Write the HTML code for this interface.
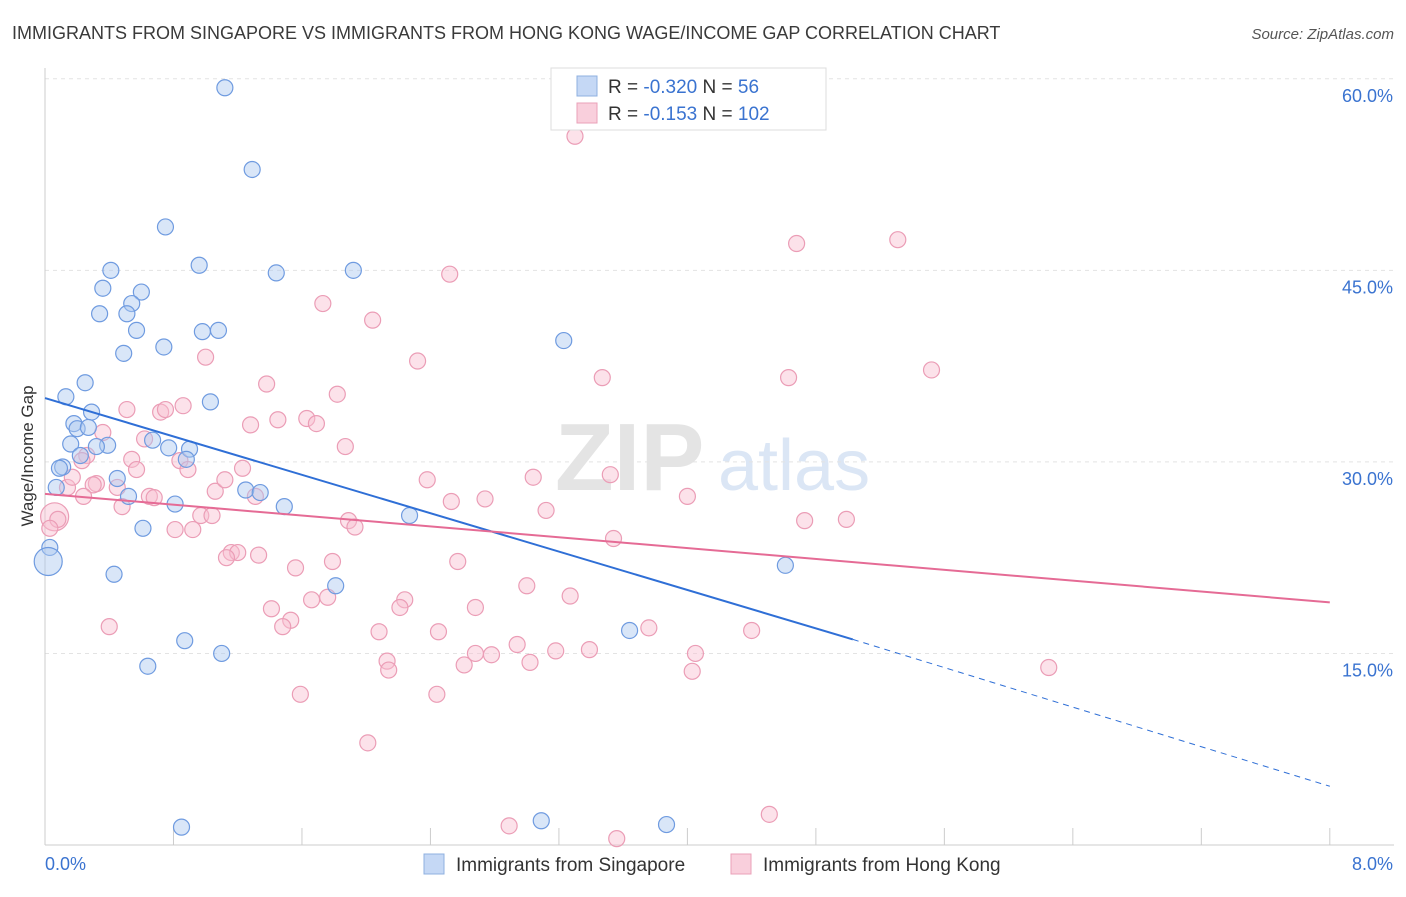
<!DOCTYPE html>
<html><head><meta charset="utf-8"><style>
body{margin:0;background:#fff;font-family:"Liberation Sans",sans-serif;}
svg text{font-family:"Liberation Sans",sans-serif;}
</style></head><body>
<svg id="chart" width="1406" height="892" xmlns="http://www.w3.org/2000/svg">
<text x="12" y="39" font-size="18" fill="#3a3a3a">IMMIGRANTS FROM SINGAPORE VS IMMIGRANTS FROM HONG KONG WAGE/INCOME GAP CORRELATION CHART</text>
<text x="1394" y="39" font-size="15" fill="#555" text-anchor="end" font-style="italic">Source: ZipAtlas.com</text>
<g><text x="555" y="490" font-size="96" fill="#e4e4e4" font-family="Liberation Serif" font-weight="bold">ZIP</text><text x="718" y="490" font-size="72" fill="#dbe6f5">atlas</text></g>
<g id="grid"></g>
<g id="axes"></g>
<g id="pink"></g>
<g id="blue"></g>
<g id="trend"></g>
<text transform="translate(33,456) rotate(-90)" font-size="17" fill="#333" text-anchor="middle">Wage/Income Gap</text>
<g>
<rect x="551" y="68" width="275" height="62" fill="#fff" stroke="#ddd"/>
<rect x="577" y="76" width="20" height="20" fill="#c5d8f5" stroke="#8fb0e0"/>
<rect x="577" y="103" width="20" height="20" fill="#f9cfdc" stroke="#eaa0b8"/>
<text x="608" y="93" font-size="19" fill="#333">R = <tspan fill="#3a73d0">-0.320</tspan>   N = <tspan fill="#3a73d0"> 56</tspan></text>
<text x="608" y="120" font-size="19" fill="#333">R =  <tspan fill="#3a73d0">-0.153</tspan>   N = <tspan fill="#3a73d0">102</tspan></text>
</g>
<g>
<rect x="424" y="854" width="20" height="20" fill="#c5d8f5" stroke="#8fb0e0"/>
<text x="456" y="871" font-size="19" fill="#333">Immigrants from Singapore</text>
<rect x="731" y="854" width="20" height="20" fill="#f9cfdc" stroke="#eaa0b8"/>
<text x="763" y="871" font-size="19" fill="#333">Immigrants from Hong Kong</text>
</g>
</svg>
<script>
const blueX=[1.12,1.29,0.75,0.96,0.41,1.44,1.92,0.36,0.60,0.54,0.34,0.51,0.57,0.98,1.08,0.74,0.49,3.23,0.25,0.13,1.03,0.29,0.18,0.20,0.27,0.39,0.16,0.32,0.67,0.77,0.90,0.88,0.22,0.11,0.09,0.45,0.07,1.25,1.34,0.52,0.81,1.49,2.27,0.61,0.03,0.02,0.43,1.81,4.61,3.64,0.87,1.10,0.64,0.85,3.09,3.87];
const blueY=[59.3,52.9,48.4,45.4,45.0,44.8,45.0,43.6,43.3,42.4,41.6,41.6,40.3,40.2,40.3,39.0,38.5,39.5,36.2,35.1,34.7,33.9,33.0,32.6,32.7,31.3,31.4,31.2,31.7,31.1,31.0,30.2,30.5,29.6,29.5,28.7,28.0,27.8,27.6,27.3,26.7,26.5,25.8,24.8,23.3,22.2,21.2,20.3,21.9,16.8,16.0,15.0,14.0,1.4,1.9,1.6];
const pinkX=[3.30,5.31,4.68,2.52,1.73,2.04,2.32,1.00,5.52,3.47,4.63,1.38,1.82,0.51,0.72,0.75,0.86,1.63,1.45,1.69,1.28,0.36,0.62,1.87,0.26,0.23,0.54,0.84,0.89,1.23,0.57,0.14,0.17,0.32,0.45,0.65,0.68,1.06,1.12,1.31,2.38,3.04,3.52,2.53,2.74,3.12,4.00,0.97,1.04,0.48,0.06,0.08,0.03,0.81,0.92,1.89,1.93,4.73,4.99,3.54,1.16,1.20,1.33,1.13,1.79,2.57,1.56,3.00,3.27,1.76,1.66,2.24,2.21,1.41,2.68,1.53,1.48,0.40,2.08,2.45,3.76,4.40,2.94,3.39,3.18,2.68,2.78,2.61,2.13,2.14,3.02,4.05,4.03,6.25,1.59,2.44,2.01,2.89,3.56,4.51,0.30,0.24];
const pinkY=[55.5,47.4,47.1,44.7,42.4,41.1,37.9,38.2,37.2,36.6,36.6,36.1,35.3,34.1,33.9,34.1,34.4,33.4,33.3,33.0,32.9,32.3,31.8,31.2,30.5,30.1,30.2,30.1,29.4,29.5,29.4,28.0,28.8,28.3,28.0,27.3,27.2,27.7,28.6,27.3,28.6,28.8,29.0,26.9,27.1,26.2,27.3,25.8,25.8,26.5,25.7,25.5,24.8,24.7,24.7,25.4,24.9,25.4,25.5,24.0,22.9,22.9,22.7,22.5,22.2,22.2,21.7,20.3,19.5,19.4,19.2,19.2,18.6,18.5,18.6,17.6,17.1,17.1,16.7,16.7,17.0,16.8,15.7,15.3,15.2,15.0,14.9,14.1,14.4,13.7,14.3,15.0,13.6,13.9,11.8,11.8,8.0,1.5,0.5,2.4,28.2,27.3];
const yTicks=[15,30,45,60];
const yTickLabels=["15.0%","30.0%","45.0%","60.0%"];
const xTicks=[0,0.8,1.6,2.4,3.2,4.0,4.8,5.6,6.4,7.2,8.0];
const xEndLabels=["0.0%","8.0%"];
const blueTrend=[35.0,16.1,4.6]; // at x=0, 5.03, 8
const blueTrendX=[0,5.03,8];
const pinkTrend=[27.5,19.0];
const pinkTrendX=[0,8];
const NS="http://www.w3.org/2000/svg";
const sx=v=>45+v*160.6, sy=v=>845-v*12.77;
function mk(tag,attrs,parent){const e=document.createElementNS(NS,tag);for(const k in attrs)e.setAttribute(k,attrs[k]);parent.appendChild(e);return e;}
const grid=document.getElementById('grid'),axes=document.getElementById('axes');
yTicks.forEach((t,i)=>{
 const l=mk('line',{x1:45,x2:1394,y1:sy(t),y2:sy(t),stroke:'#e3e3e3','stroke-dasharray':'4,4'},grid);
 
 
 const tx=mk('text',{x:1393,y:sy(t)+23,'font-size':18,fill:'#3a73d0','text-anchor':'end'},axes);
 tx.textContent=yTickLabels[i];
 
 
});
const ax=mk('line',{x1:45,x2:1394,y1:845,y2:845,stroke:'#ccc'},axes);


const ay=mk('line',{x1:45,x2:45,y1:68,y2:845,stroke:'#ccc'},axes);


xTicks.forEach(t=>{const l=mk('line',{x1:sx(t),x2:sx(t),y1:828,y2:845,stroke:'#ccc'},axes);
 
 });
[[0,'start',45],[1,'end',1393]].forEach(([i,a,x])=>{const tx=mk('text',{x:x,y:870,'font-size':18,fill:'#3a73d0','text-anchor':a},axes);tx.textContent=xEndLabels[i];
 
 });
function dots(xs,ys,g,fill,stroke,big){xs.forEach((x,i)=>{const c=mk('circle',{cx:sx(x),cy:sy(ys[i]),r:i===big?14:8,fill:fill,stroke:stroke,'stroke-width':1.2},g);
 
 });}
dots(pinkX,pinkY,document.getElementById('pink'),'rgba(249,190,208,0.45)','#eb9db6',50);
dots(blueX,blueY,document.getElementById('blue'),'rgba(170,200,240,0.45)','#6f9be0',45);
const tr=document.getElementById('trend');
const b1=mk('line',{x1:sx(blueTrendX[0]),y1:sy(blueTrend[0]),x2:sx(blueTrendX[1]),y2:sy(blueTrend[1]),stroke:'#2f6fd6','stroke-width':2},tr);


const b2=mk('line',{x1:sx(blueTrendX[1]),y1:sy(blueTrend[1]),x2:sx(blueTrendX[2]),y2:sy(blueTrend[2]),stroke:'#2f6fd6','stroke-width':1,'stroke-dasharray':'6,5'},tr);


const p1=mk('line',{x1:sx(pinkTrendX[0]),y1:sy(pinkTrend[0]),x2:sx(pinkTrendX[1]),y2:sy(pinkTrend[1]),stroke:'#e56b95','stroke-width':2},tr);


</script>
</body></html>
